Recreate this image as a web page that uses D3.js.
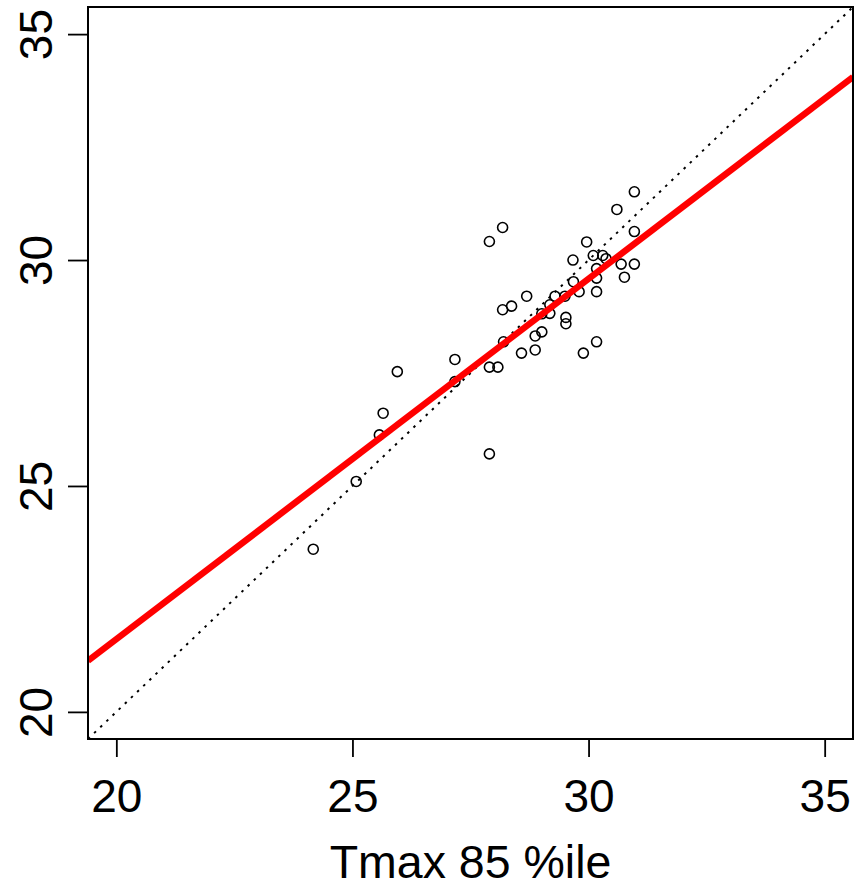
<!DOCTYPE html>
<html>
<head>
<meta charset="utf-8">
<script src="https://cdn.jsdelivr.net/npm/d3@7"></script>
<style>
  html, body { margin: 0; padding: 0; background: #fff; }
  svg { display: block; }
  text { font-family: "Liberation Sans", Arial, Helvetica, sans-serif; fill: #000; }
</style>
</head>
<body>
<script>
// ---- data ----
const tmaxX = [24.17, 25.08, 25.57, 25.65, 25.95, 27.17, 27.17, 27.90, 28.18, 27.90,
               28.08, 27.90, 28.18, 28.37, 28.20, 28.69, 28.58, 28.87, 28.87, 29.01,
               29.01, 29.18, 29.18, 29.29, 29.50, 29.52, 29.52, 29.67, 29.68, 29.80,
               29.89, 29.96, 30.10, 30.17, 30.17, 30.17, 30.17, 30.30, 30.37, 30.60,
               30.69, 30.76, 30.97, 30.97, 30.97];
const tmaxY = [23.60, 25.10, 26.13, 26.61, 27.53, 27.80, 27.31, 30.41, 30.72, 27.63,
               27.63, 25.71, 28.90, 28.98, 28.19, 29.20, 27.94, 28.01, 28.32, 28.41,
               28.81, 28.82, 29.01, 29.20, 29.20, 28.73, 28.59, 30.00, 29.52, 29.30,
               27.94, 30.40, 30.10, 29.81, 29.60, 29.30, 28.19, 30.10, 30.03, 31.12,
               29.91, 29.62, 31.51, 30.63, 29.91];
const fitIntercept = 5.66;
const fitSlope = 0.7975;
const axisLimits = [19.4, 35.6];
const xTicks = [20, 25, 30, 35];
const yTicks = [20, 25, 30, 35];
const xTitle = "Tmax 85 %ile";

// ---- layout ----
const W = 863, H = 892;
const L = 88, R = 853, T = 7, B = 739;

const svg = d3.select("body").append("svg").attr("width", W).attr("height", H);

const x = d3.scaleLinear().domain(axisLimits).range([L, R]);
const y = d3.scaleLinear().domain(axisLimits).range([B, T]);

svg.append("clipPath").attr("id", "plotclip")
  .append("rect").attr("x", L).attr("y", T).attr("width", R - L).attr("height", B - T);

const plot = svg.append("g").attr("clip-path", "url(#plotclip)");

// 1:1 dotted line
const line = d3.line().x(d => x(d[0])).y(d => y(d[1]));
plot.append("path")
  .datum(axisLimits.map(v => [v, v]))
  .attr("d", line)
  .attr("fill", "none").attr("stroke", "#000")
  .attr("stroke-width", 2).attr("stroke-dasharray", "2.5,6");

// points
plot.selectAll("circle.pt")
  .data(tmaxX.map((v, i) => [v, tmaxY[i]]))
  .join("circle").attr("class", "pt")
  .attr("cx", d => x(d[0])).attr("cy", d => y(d[1])).attr("r", 5)
  .attr("fill", "none").attr("stroke", "#000").attr("stroke-width", 1.6);

// regression line
plot.append("path")
  .datum(axisLimits.map(v => [v, fitIntercept + fitSlope * v]))
  .attr("d", line)
  .attr("fill", "none").attr("stroke", "#ff0000").attr("stroke-width", 6.5);

// box
svg.append("rect").attr("x", L).attr("y", T).attr("width", R - L).attr("height", B - T)
  .attr("fill", "none").attr("stroke", "#000").attr("stroke-width", 2);

// x axis
const gx = svg.append("g").attr("transform", `translate(0,${B})`)
  .call(d3.axisBottom(x).tickValues(xTicks).tickSize(18).tickSizeOuter(0).tickFormat(d3.format("d")));
gx.select(".domain").remove();
gx.selectAll(".tick line").attr("stroke", "#000").attr("stroke-width", 1.8);
gx.selectAll(".tick text").attr("y", 73).attr("dy", null)
  .style("font-size", "46px").style("font-family", "'Liberation Sans', Arial, sans-serif").attr("fill", "#000");

// y axis
const gy = svg.append("g").attr("transform", `translate(${L},0)`)
  .call(d3.axisLeft(y).tickValues(yTicks).tickSize(20).tickSizeOuter(0).tickFormat(d3.format("d")));
gy.select(".domain").remove();
gy.selectAll(".tick line").attr("stroke", "#000").attr("stroke-width", 1.8);
gy.selectAll(".tick text")
  .attr("x", null).attr("dy", null)
  .attr("text-anchor", "middle")
  .attr("transform", "translate(-36,0) rotate(-90)")
  .style("font-size", "46px").style("font-family", "'Liberation Sans', Arial, sans-serif").attr("fill", "#000");

// x title
svg.append("text")
  .attr("x", (L + R) / 2 + 0).attr("y", 878)
  .attr("text-anchor", "middle")
  .style("font-size", "46.5px")
  .text(xTitle);
</script>
</body>
</html>
